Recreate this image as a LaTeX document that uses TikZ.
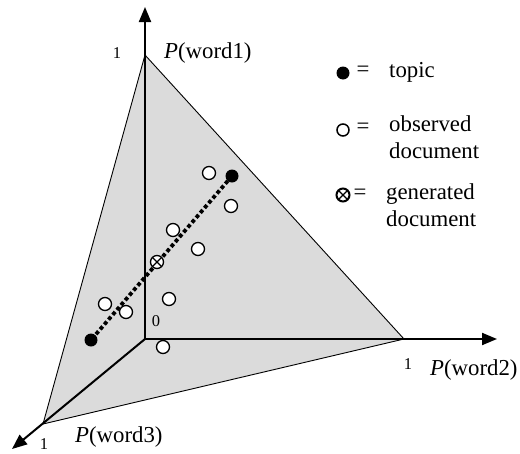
\documentclass[tikz,border=0pt]{standalone}
\usepackage{fontspec}
\setmainfont{Liberation Serif}
\usetikzlibrary{arrows.meta}
\tikzset{
  axis/.style={line width=2pt,-{Triangle[length=15pt,width=12pt]}},
  edge/.style={line width=0.9pt},
  dotline/.style={line width=3.8pt,dash pattern=on 3.8pt off 2.6pt},
  topicdot/.style={circle,fill=black,inner sep=0pt,minimum size=13pt},
  obsdot/.style={circle,draw=black,fill=white,line width=1.3pt,inner sep=0pt,minimum size=13pt},
  gendot/.style={circle,draw=black,fill=white,line width=1.3pt,inner sep=0pt,minimum size=13pt,
    path picture={\draw[line width=1.3pt] (path picture bounding box.south west) -- (path picture bounding box.north east)
      (path picture bounding box.north west) -- (path picture bounding box.south east);}},
  lab/.style={inner sep=0pt,font=\fontsize{22.8}{27}\selectfont},
  small/.style={inner sep=0pt,font=\fontsize{16.5}{18}\selectfont},
}
\begin{document}
\begin{tikzpicture}[x=1pt,y=-1pt]
\useasboundingbox (0,0) rectangle (520,453);
% geometry
\coordinate (O) at (145,339);
\coordinate (A) at (145,55);
\coordinate (B) at (404,339);
\coordinate (C) at (43,424);
\coordinate (Atip) at (145,7);
\coordinate (Btip) at (497,339);
\coordinate (Ctip) at (12,449);
% simplex
\filldraw[edge,fill=black!14] (A) -- (B) -- (C) -- cycle;
% axes
\draw[axis] (O) -- (Atip);
\draw[axis] (O) -- (Btip);
\draw[axis] (O) -- (Ctip);
% axis labels
\node[small] (one1) at (117,53) {1};
\node[lab,anchor=west] (w1) at (164,53) {\textit{P}(word1)};
\node[small] (zero) at (156,321) {0};
\node[small] (one2) at (408,364) {1};
\node[lab,anchor=west] (w2) at (430,370) {\textit{P}(word2)};
\node[small] (one3) at (44,444) {1};
\node[lab,anchor=west] (w3) at (75,437) {\textit{P}(word3)};
% topics and dotted line
\coordinate (T1c) at (232,176);
\coordinate (T2c) at (91,340);
\draw[dotline] (T1c) -- (T2c);
\node[topicdot] (t1) at (T1c) {};
\node[topicdot] (t2) at (T2c) {};
% observed documents
\node[obsdot] (d1) at (209,173) {};
\node[obsdot] (d2) at (231,206) {};
\node[obsdot] (d3) at (173,230) {};
\node[obsdot] (d4) at (198,249) {};
\node[obsdot] (d5) at (169,299) {};
\node[obsdot] (d6) at (105,304) {};
\node[obsdot] (d7) at (126,312) {};
\node[obsdot] (d8) at (163,347) {};
% generated document
\node[gendot] (g1) at (157,262) {};
% legend
\node[topicdot,minimum size=13pt] (lt) at (343,73) {};
\node[lab] (le1) at (363,71) {=};
\node[lab,anchor=west] (ltt) at (389,72) {topic};
\node[obsdot,minimum size=12pt,line width=1.5pt] (lo) at (343,130) {};
\node[lab] (le2) at (363,128) {=};
\node[lab,anchor=north west,align=left] (lot) at (389,115) {observed\\document};
\node[gendot,minimum size=13pt,line width=2pt] (lg) at (343,195) {};
\node[lab] (le3) at (360,194) {=};
\node[lab,anchor=north west,align=left] (lgt) at (386,183) {generated\\document};
\end{tikzpicture}
\end{document}
